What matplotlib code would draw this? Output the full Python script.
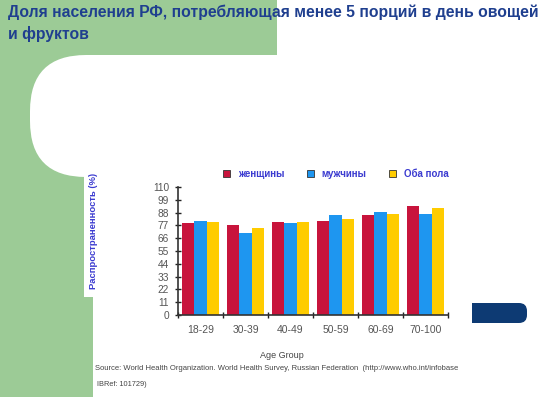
import matplotlib.pyplot as plt
from matplotlib.patches import Rectangle, FancyBboxPatch
import numpy as np

age_groups = ['18-29', '30-39', '40-49', '50-59', '60-69', '70-100']
women = [78.7, 77.5, 80.1, 80.7, 86.0, 93.8]
men = [80.9, 70.1, 79.0, 86.0, 88.6, 86.9]
both = [79.5, 74.9, 79.5, 82.6, 86.6, 92.0]
series_names = ['женщины', 'мужчины', 'Оба пола']
series_colors = ['#c8143c', '#1e96f0', '#ffcc00']
y_ticks = [0, 11, 22, 33, 44, 55, 66, 77, 88, 99, 110]

title = 'Доля населения РФ, потребляющая менее 5 порций в день овощей\nи фруктов'
source = 'Source: World Health Organization. World Health Survey, Russian Federation  (http://www.who.int/infobase'
ibref = 'IBRef: 101729)'

W, H = 550, 397
green = '#9ccb96'
navy = '#0d3a73'
label_blue = '#3b3bd0'
fam = ['Liberation Sans', 'DejaVu Sans']

fig = plt.figure(figsize=(W / 100, H / 100), dpi=100)

# background drawn in pixel coords
bg = fig.add_axes([0, 0, 1, 1], zorder=0)
bg.set_xlim(0, W)
bg.set_ylim(H, 0)
bg.axis('off')
bg.add_patch(Rectangle((0, 0), 277, 55, color=green, lw=0))
bg.add_patch(Rectangle((0, 0), 93, H, color=green, lw=0))
bg.add_patch(FancyBboxPatch((30, 55), 560, 122, boxstyle='round,pad=0,rounding_size=56',
                            color='white', lw=0))
bg.add_patch(Rectangle((93, 100), W, H, color='white', lw=0))
bg.add_patch(Rectangle((84, 165), 20, 132, color='white', lw=0))
bg.add_patch(FancyBboxPatch((472, 303), 55, 20, boxstyle='round,pad=0,rounding_size=8',
                            color=navy, lw=0))
bg.add_patch(Rectangle((472, 303), 20, 20, color=navy, lw=0))

bg.text(8, 5, title, fontsize=11.3, fontweight='bold', color='#1f3f8f', va='top', ha='left',
        family=fam, linespacing=1.4)
bg.text(94, 231, 'Распространенность (%)', rotation=90, fontsize=6.8, fontweight='bold',
        color=label_blue, ha='center', va='center', family=fam)
bg.text(282, 355, 'Age Group', fontsize=6.5, color='#444444', ha='center', va='center',
        family=fam)
bg.text(95, 368, source, fontsize=5.5, color='#444444', ha='left', va='center', family=fam)
bg.text(97, 385, ibref, fontsize=5.3, color='#444444', ha='left', va='center', family=fam)

ax = fig.add_axes([178 / W, (H - 315) / H, 270 / W, 128 / H], zorder=1)
ax.patch.set_alpha(0)
x = np.arange(len(age_groups))
bw = 0.267
for i, (vals, name, col) in enumerate(zip([women, men, both], series_names, series_colors)):
    ax.bar(x + (i - 1) * bw, vals, width=bw, color=col, label=name, edgecolor='none')

ax.set_xlim(-0.5, len(age_groups) - 0.5)
ax.set_ylim(0, 110)
ax.set_yticks(y_ticks)
ax.set_xticks(np.arange(len(age_groups) + 1) - 0.5, minor=False)
ax.set_xticklabels([])
ax.set_xticks(x, minor=True)
ax.set_xticklabels(age_groups, minor=True)
ax.tick_params(axis='x', which='major', direction='inout', length=5, width=1, color='#222222')
ax.tick_params(axis='x', which='minor', length=0, pad=7, labelsize=7.5, labelcolor='#555555')
ax.tick_params(axis='y', direction='inout', length=5, width=1, color='#222222',
               labelsize=7.3, labelcolor='#555555', pad=4)
for lab in ax.get_xticklabels(minor=True) + ax.get_yticklabels():
    lab.set_family(fam)
for s in ['top', 'right']:
    ax.spines[s].set_visible(False)
for s in ['left', 'bottom']:
    ax.spines[s].set_color('#333333')
    ax.spines[s].set_linewidth(1.2)

leg = ax.legend(ncol=3, loc='center left', bbox_to_anchor=(223 / W, (H - 174) / H),
                bbox_transform=fig.transFigure, frameon=False, handlelength=0.75,
                handleheight=0.75, handletextpad=0.75, columnspacing=2.35,
                borderaxespad=0, borderpad=0,
                prop={'family': fam, 'size': 7, 'weight': 'bold'})
for t in leg.get_texts():
    t.set_color(label_blue)
for h in leg.legend_handles:
    h.set_edgecolor('#333333')
    h.set_linewidth(0.6)

fig.savefig('out.png', dpi=100)
